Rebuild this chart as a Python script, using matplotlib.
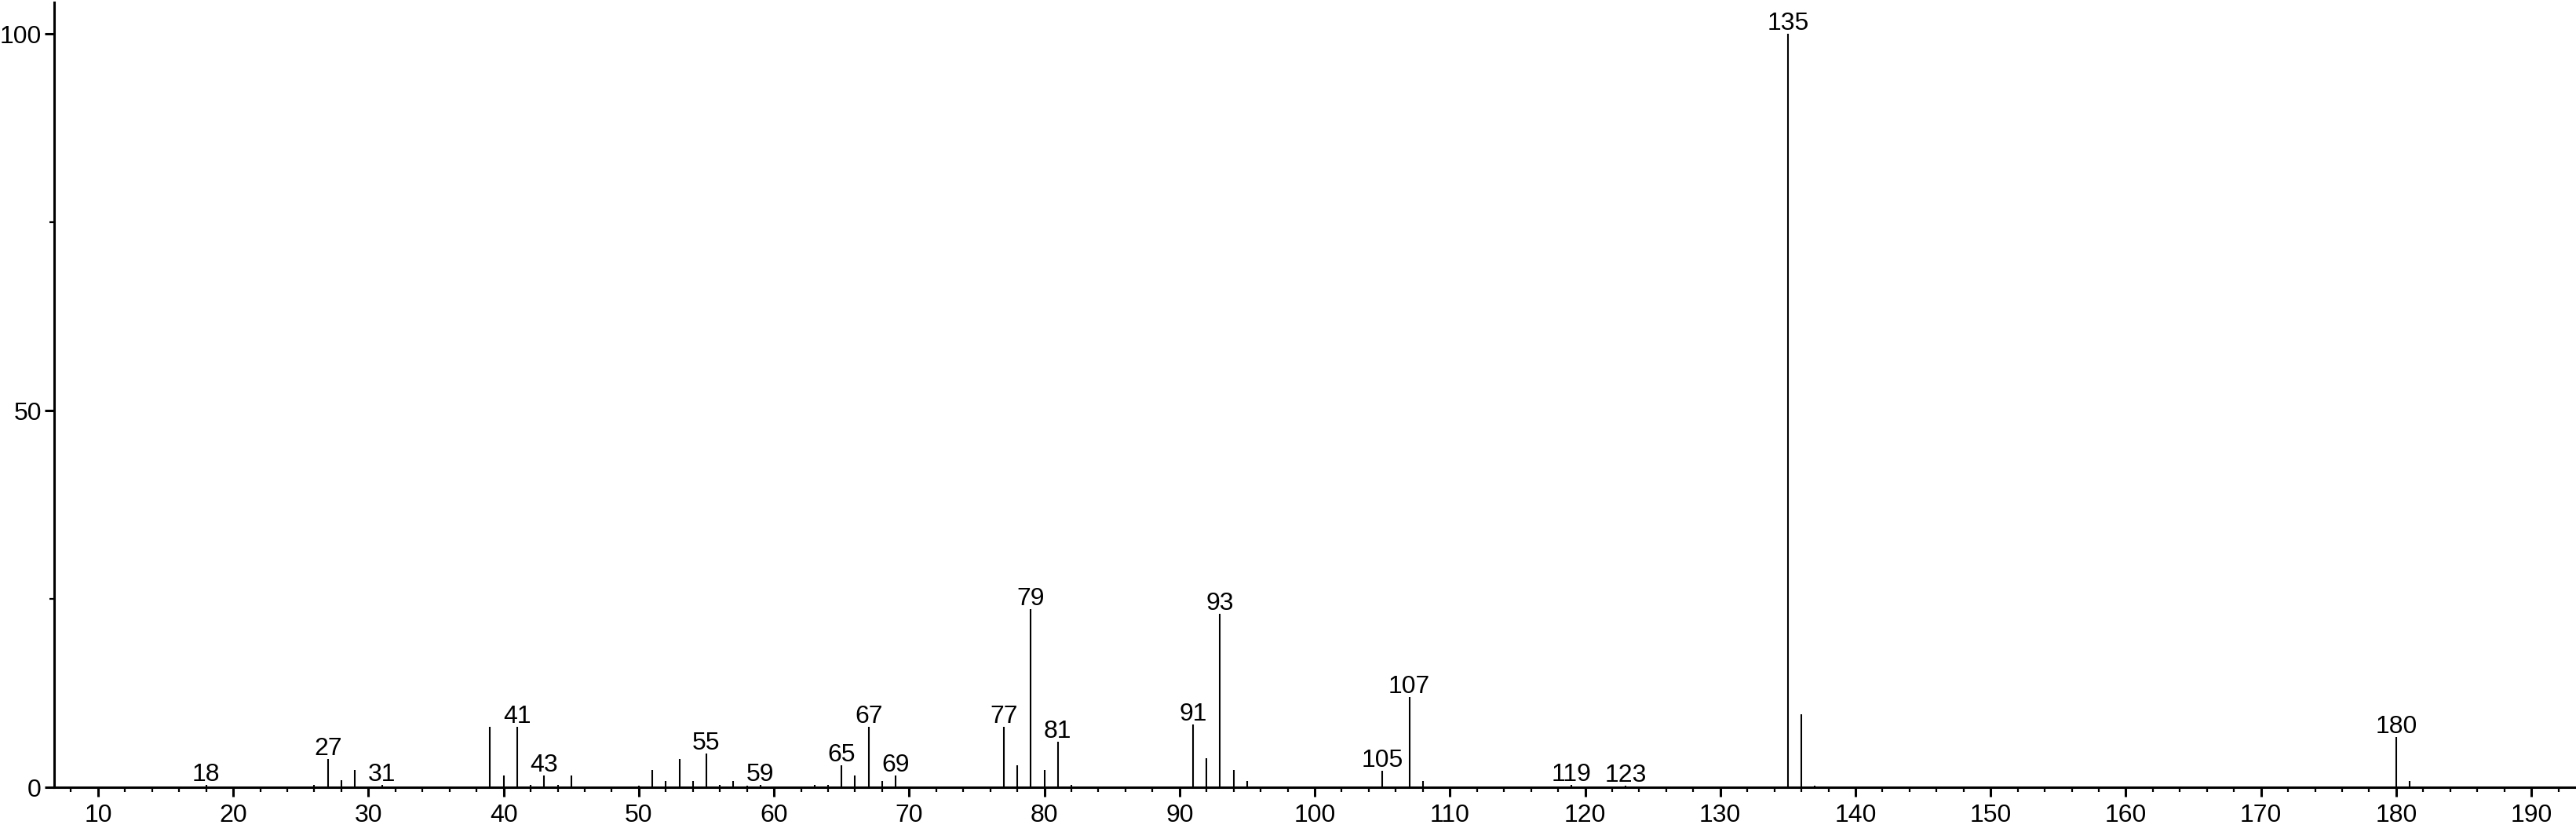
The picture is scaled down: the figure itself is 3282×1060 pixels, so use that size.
import matplotlib
matplotlib.use("Agg")
import matplotlib.pyplot as plt
from matplotlib.ticker import MultipleLocator

plt.rcParams['font.family'] = ['Liberation Sans', 'DejaVu Sans']

# mass spectrum: m/z and relative intensity (%)
mz = [18, 26, 27, 28, 29, 31, 39, 40, 41, 42, 43, 44, 45, 50, 51, 52, 53, 54,
      55, 56, 57, 58, 59, 63, 64, 65, 66, 67, 68, 69, 77, 78, 79, 80, 81, 82,
      91, 92, 93, 94, 95, 105, 107, 108, 119, 123, 135, 136, 137, 180, 181]
intensity = [0.3, 0.3, 3.8, 1.0, 2.3, 0.3, 8.1, 1.6, 8.1, 0.3, 1.6, 0.3, 1.6,
             0.2, 2.3, 0.9, 3.8, 0.9, 4.5, 0.3, 0.9, 0.2, 0.3, 0.3, 0.3, 2.9,
             1.6, 8.1, 0.9, 1.6, 8.1, 2.9, 23.7, 2.3, 6.1, 0.3, 8.4, 3.9, 23.0,
             2.3, 0.9, 2.2, 12.0, 0.9, 0.3, 0.2, 100.0, 9.7, 0.2, 6.7, 0.9]
labeled = [18, 27, 31, 41, 43, 55, 59, 65, 67, 69, 77, 79, 81, 91, 93, 105,
           107, 119, 123, 135, 180]

fig = plt.figure(figsize=(32.82, 10.6), dpi=100)
ax = fig.add_axes([0.021, 0.0535, 0.979, 0.9437])

ax.vlines(mz, 0, intensity, color='black', linewidth=1.5)

inten = dict(zip(mz, intensity))
for m in labeled:
    ax.annotate(str(m), (m, inten[m]), xytext=(0, 5), textcoords='offset pixels',
                ha='center', va='baseline', fontsize=23, clip_on=False)

ax.set_xlim(6.75, 193.3)
ax.set_ylim(0, 104.2)

ax.spines['top'].set_visible(False)
ax.spines['right'].set_visible(False)
ax.spines['left'].set_linewidth(2.2)
ax.spines['bottom'].set_linewidth(2.2)

ax.xaxis.set_major_locator(MultipleLocator(10))
ax.xaxis.set_minor_locator(MultipleLocator(2))
ax.yaxis.set_major_locator(MultipleLocator(50))
ax.yaxis.set_minor_locator(MultipleLocator(25))

ax.tick_params(which='major', length=8.6, width=2.2, labelsize=23)
ax.tick_params(which='minor', length=4.3, width=1.6)
ax.tick_params(axis='x', which='major', pad=6)
ax.tick_params(axis='y', which='major', pad=3)

fig.savefig('out.png', dpi=100)
